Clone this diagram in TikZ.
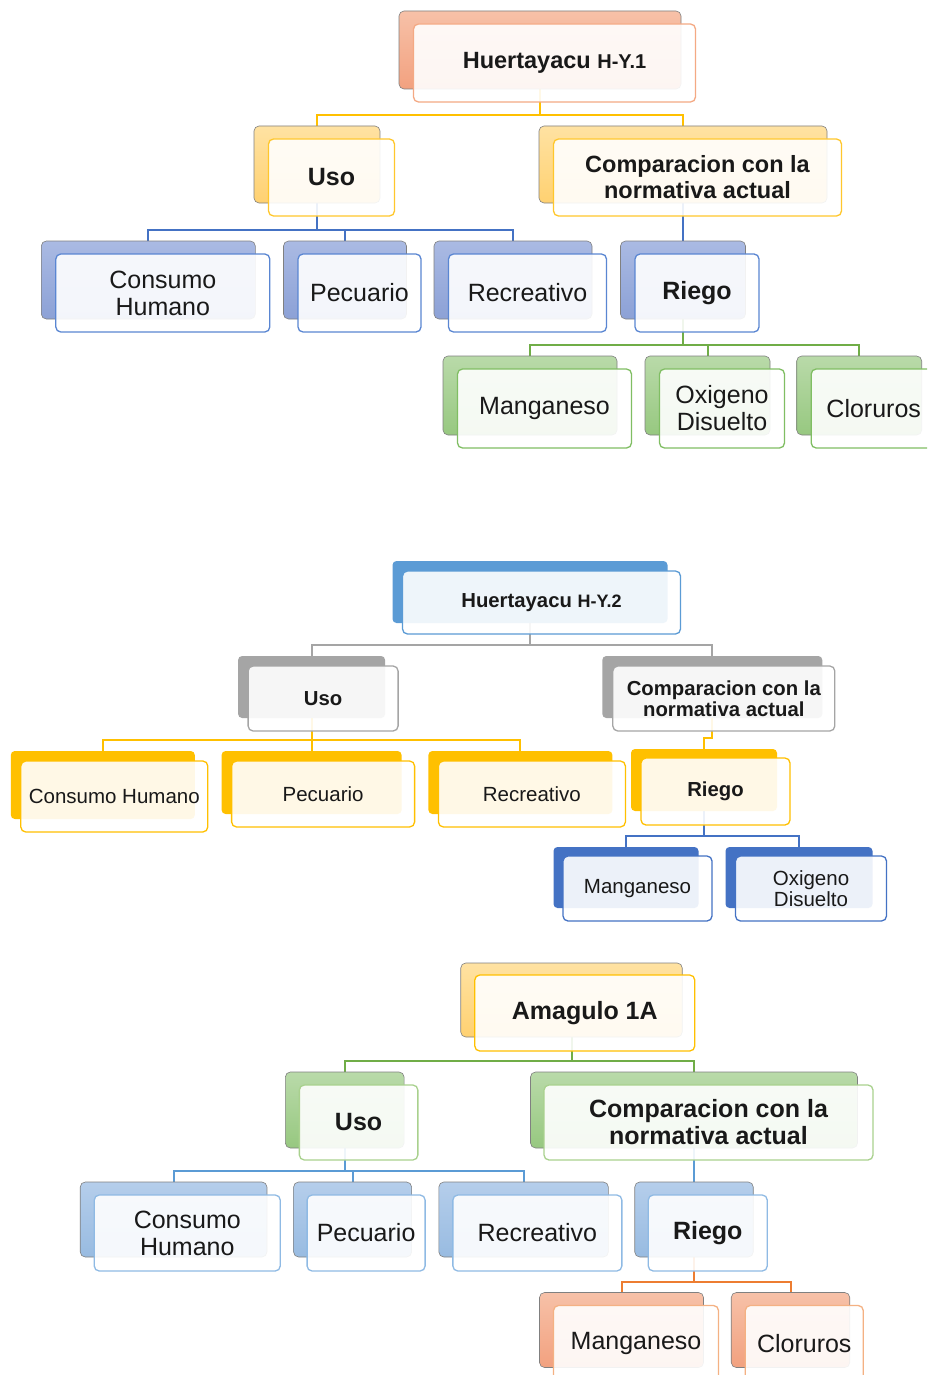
\documentclass[tikz,border=0pt]{standalone}
\usepackage{fontspec}
\setmainfont{Liberation Sans}
\usetikzlibrary{positioning,backgrounds}

\definecolor{salmonT}{HTML}{F7C1A8}
\definecolor{salmonB}{HTML}{F2A17F}
\definecolor{salmonE}{HTML}{F4A984}
\definecolor{goldT}{HTML}{FFE2A2}
\definecolor{goldB}{HTML}{FFD171}
\definecolor{goldE}{HTML}{FFC72C}
\definecolor{goldL}{HTML}{FFC000}
\definecolor{lilacT}{HTML}{AABAE3}
\definecolor{lilacB}{HTML}{8CA1D6}
\definecolor{lilacE}{HTML}{5A86D2}
\definecolor{blueL}{HTML}{4472C4}
\definecolor{greenT}{HTML}{B9DAA9}
\definecolor{greenB}{HTML}{97C880}
\definecolor{greenE}{HTML}{80BE63}
\definecolor{greenF}{HTML}{A9D18E}
\definecolor{greenL}{HTML}{70AD47}
\definecolor{skyS}{HTML}{5B9BD5}
\definecolor{grayS}{HTML}{A5A5A5}
\definecolor{skyT}{HTML}{B5CEEB}
\definecolor{skyB}{HTML}{98BBE1}
\definecolor{skyE}{HTML}{8FBAE4}
\definecolor{orangeE}{HTML}{F4B183}
\definecolor{orangeL}{HTML}{ED7D31}

\begin{document}
\begin{tikzpicture}[x=1pt, y=-1pt,
    back/.style 2 args = {rounded corners=5pt, inner sep=0pt, outer sep=0pt, top color=#1, bottom color=#2, draw=black!50, line width=0.6pt},
    flat/.style = {rounded corners=4pt, inner sep=0pt, outer sep=0pt, fill=#1},
    front/.style = {rounded corners=5pt, inner sep=0pt, outer sep=0pt, draw=#1, line width=1.3pt, fill=white, fill opacity=0.9, text opacity=1, align=center, text=black!90},
    box/.style 2 args = {minimum width=#1pt, minimum height=#2pt},
    big/.style = {font=\fontsize{25}{27}\selectfont},
    bigb/.style = {font=\fontsize{25}{27}\selectfont\bfseries},
    headb/.style = {font=\fontsize{23.5}{26}\selectfont\bfseries},
    small/.style = {font=\fontsize{20.5}{21}\selectfont},
    smallb/.style = {font=\fontsize{20.3}{21}\selectfont\bfseries},
    link/.style = {draw=#1, line width=2pt, to path={(\tikztostart.south) |- ([yshift=11pt]\tikztotarget.north) -- (\tikztotarget.north)}}
    ]
    \useasboundingbox (0,0) rectangle (927,1375);
    \clip (0,0) rectangle (927,1375);

    % Huertayacu H-Y.1
    \node[back={salmonT}{salmonB}, box={282}{78}] (top1) at (540,50) {};
    \node[front=salmonE, box={282}{78}, headb] (top1f) [below right=13pt and 14.5pt of top1.north west] {Huertayacu {\fontsize{20}{22}\selectfont H-Y.1}};
    \node[back={goldT}{goldB}, box={126}{77}] (uso1) at (317,164.5) {};
    \node[front=goldE, box={126}{77}, bigb] (uso1f) [below right=13pt and 14.5pt of uso1.north west] {Uso};
    \node[back={goldT}{goldB}, box={288}{77}] (comp1) at (683,164.5) {};
    \node[front=goldE, box={288}{77}, headb] (comp1f) [below right=13pt and 14.5pt of comp1.north west] {Comparacion con la\\normativa actual};
    \node[back={lilacT}{lilacB}, box={214}{78}] (cons1) at (148.3,280) {};
    \node[front=lilacE, box={214}{78}, big] (cons1f) [below right=13pt and 14.5pt of cons1.north west] {Consumo\\Humano};
    \node[back={lilacT}{lilacB}, box={123}{78}] (pec1) at (345,280) {};
    \node[front=lilacE, box={123}{78}, big] (pec1f) [below right=13pt and 14.5pt of pec1.north west] {Pecuario};
    \node[back={lilacT}{lilacB}, box={158}{78}] (rec1) at (513,280) {};
    \node[front=lilacE, box={158}{78}, big] (rec1f) [below right=13pt and 14.5pt of rec1.north west] {Recreativo};
    \node[back={lilacT}{lilacB}, box={125}{78}] (rie1) at (683,280) {};
    \node[front=lilacE, box={124}{78}, bigb] (rie1f) [below right=13pt and 14.5pt of rie1.north west] {Riego};
    \node[back={greenT}{greenB}, box={174}{79}] (man1) at (530,395.5) {};
    \node[front=greenE, box={174}{79}, big] (man1f) [below right=13pt and 14.5pt of man1.north west] {Manganeso};
    \node[back={greenT}{greenB}, box={125}{79}] (oxi1) at (707.5,395.5) {};
    \node[front=greenE, box={125}{79}, big] (oxi1f) [below right=13pt and 14.5pt of oxi1.north west] {Oxigeno\\Disuelto};
    \node[back={greenT}{greenB}, box={125}{79}] (clo1) at (859.2,395.5) {};
    \node[front=greenE, box={125}{79}, big] (clo1f) [below right=13pt and 14.5pt of clo1.north west] {Cloruros};

    % Huertayacu H-Y.2
    \node[flat=skyS, box={275}{62}] (top2) at (530,592) {};
    \node[front=skyS, box={278}{63}, smallb] (top2f) [below right=10pt and 10pt of top2.north west] {Huertayacu {\fontsize{18}{20}\selectfont H-Y.2}};
    \node[flat=grayS, box={147}{62}] (uso2) at (311.6,687) {};
    \node[front=grayS, box={150}{65}, smallb] (uso2f) [below right=10pt and 10pt of uso2.north west] {Uso};
    \node[flat=grayS, box={220}{62}] (comp2) at (712.3,687) {};
    \node[front=grayS, box={222}{65}, smallb] (comp2f) [below right=10pt and 10.5pt of comp2.north west] {Comparacion con la\\normativa actual};
    \node[flat=goldL, box={184}{68}] (cons2) at (102.8,785) {};
    \node[front=goldL, box={187}{71}, small] (cons2f) [below right=10pt and 10pt of cons2.north west] {Consumo Humano};
    \node[flat=goldL, box={180}{63}] (pec2) at (311.6,782.5) {};
    \node[front=goldL, box={183}{66}, small] (pec2f) [below right=10pt and 10pt of pec2.north west] {Pecuario};
    \node[flat=goldL, box={184}{63}] (rec2) at (520.4,782.5) {};
    \node[front=goldL, box={187}{66}, small] (rec2f) [below right=10pt and 10pt of rec2.north west] {Recreativo};
    \node[flat=goldL, box={146}{62}] (rie2) at (704,780) {};
    \node[front=goldL, box={149}{67}, smallb] (rie2f) [below right=9pt and 10pt of rie2.north west] {Riego};
    \node[flat=blueL, box={145}{61}] (man2) at (626,877.5) {};
    \node[front=blueL, box={149}{65}, small] (man2f) [below right=9pt and 9.5pt of man2.north west] {Manganeso};
    \node[flat=blueL, box={147}{61}] (oxi2) at (799,877.5) {};
    \node[front=blueL, box={151}{65}, small] (oxi2f) [below right=9pt and 10pt of oxi2.north west] {Oxigeno\\Disuelto};

    % Amagulo 1A
    \node[back={goldT}{goldB}, box={221.5}{74}] (top3) at (571.5,1000) {};
    \node[front=goldL, box={220}{76}, bigb] (top3f) [below right=12pt and 14pt of top3.north west] {Amagulo 1A};
    \node[back={greenT}{greenB}, box={118.7}{76}] (uso3) at (344.7,1110) {};
    \node[front=greenF, box={118.5}{75}, bigb] (uso3f) [below right=13pt and 14pt of uso3.north west] {Uso};
    \node[back={greenT}{greenB}, box={327}{76}] (comp3) at (694,1110) {};
    \node[front=greenF, box={329}{75}, bigb] (comp3f) [below right=13pt and 13.5pt of comp3.north west] {Comparacion con la\\normativa actual};
    \node[back={skyT}{skyB}, box={186.7}{75}] (cons3) at (173.6,1219.5) {};
    \node[front=skyE, box={186}{76}, big] (cons3f) [below right=13pt and 14pt of cons3.north west] {Consumo\\Humano};
    \node[back={skyT}{skyB}, box={118}{75}] (pec3) at (352.6,1219.5) {};
    \node[front=skyE, box={118}{76}, big] (pec3f) [below right=13pt and 13.5pt of pec3.north west] {Pecuario};
    \node[back={skyT}{skyB}, box={169.5}{75}] (rec3) at (523.6,1219.5) {};
    \node[front=skyE, box={169}{76}, big] (rec3f) [below right=13pt and 14pt of rec3.north west] {Recreativo};
    \node[back={skyT}{skyB}, box={118.5}{75}] (rie3) at (694,1219.5) {};
    \node[front=skyE, box={119}{76}, bigb] (rie3f) [below right=13pt and 13.5pt of rie3.north west] {Riego};
    \node[back={salmonT}{salmonB}, box={164}{75}] (man3) at (621.5,1330) {};
    \node[front=orangeE, box={165}{76}, big] (man3f) [below right=13pt and 14pt of man3.north west] {Manganeso};
    \node[back={salmonT}{salmonB}, box={118.5}{75}] (clo3) at (790.5,1330) {};
    \node[front=orangeE, box={118}{76}, big] (clo3f) [below right=13pt and 14pt of clo3.north west] {Cloruros};

    \begin{scope}[on background layer]
        \fill[white] (0,0) rectangle (927,1375);
        % connectors 1
        \draw[link=goldL] (top1) to (uso1) (top1) to (comp1);
        \draw[link=blueL] (uso1) to (cons1) (uso1) to (pec1) (uso1) to (rec1) (comp1) to (rie1);
        \draw[link=greenL] (rie1) to (man1) (rie1) to (oxi1) (rie1) to (clo1);
        % connectors 2
        \draw[link=grayS] (top2) to (uso2) (top2) to (comp2);
        \draw[link=goldL] (uso2) to (cons2) (uso2) to (pec2) (uso2) to (rec2) (comp2) to (rie2);
        \draw[link=blueL] (rie2) to (man2) (rie2) to (oxi2);
        % connectors 3
        \draw[link=greenL] (top3) to (uso3) (top3) to (comp3);
        \draw[link=skyS] (uso3) to (cons3) (uso3) to (pec3) (uso3) to (rec3) (comp3) to (rie3);
        \draw[link=orangeL] (rie3) to (man3) (rie3) to (clo3);
    \end{scope}
\end{tikzpicture}
\end{document}
